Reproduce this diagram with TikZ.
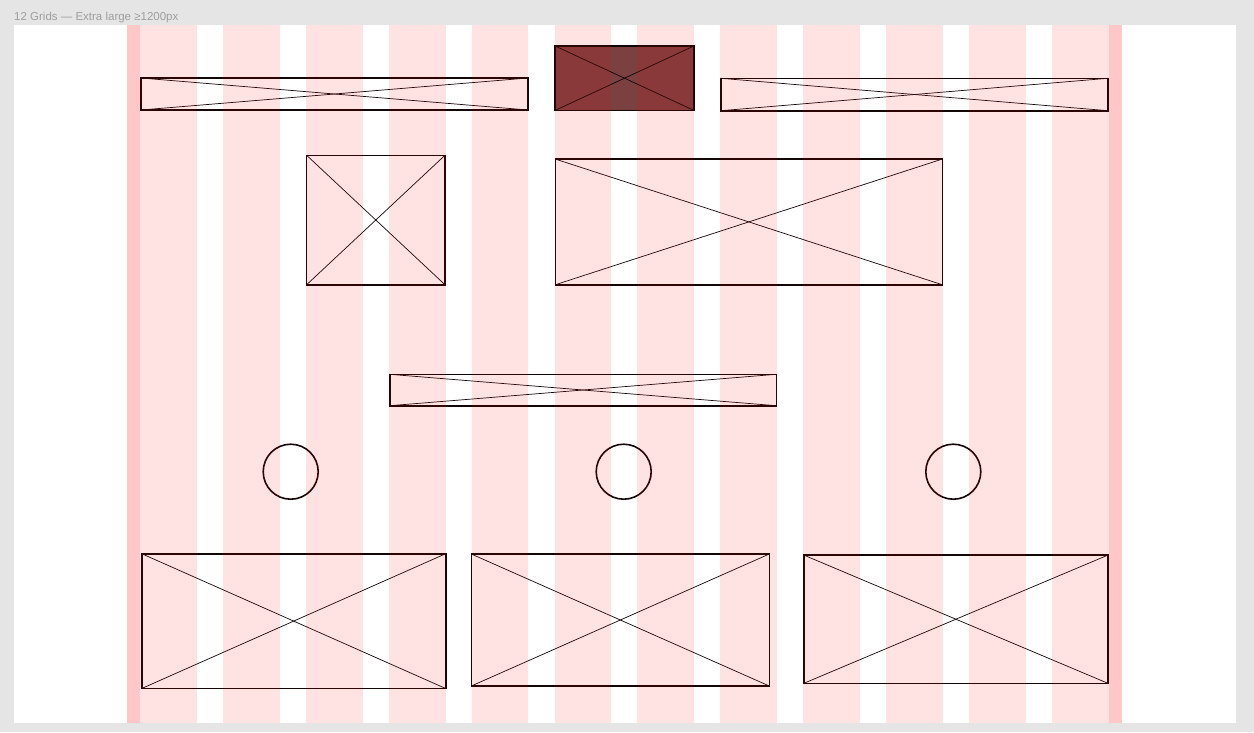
\documentclass[tikz,border=0pt]{standalone}
\usepackage{fontspec}
\setmainfont{Liberation Sans}
\usepackage{xcolor}
\definecolor{canvas-grey}{HTML}{E5E5E5}
\definecolor{label-grey}{HTML}{9E9E9E}
\definecolor{grid-red}{HTML}{FF0000}
\definecolor{wire-ink}{HTML}{120606}
\definecolor{hero-fill}{HTML}{7B4141}

\begin{document}
\begin{tikzpicture}[x=1pt, y=-1pt,
      every node/.style={font=\small},
      xbox/.style={draw=wire-ink, line width=1.6pt, inner sep=0pt, outer sep=0pt},
      cross/.style={wire-ink, line width=0.7pt},
      dot/.style={circle, draw=wire-ink, line width=1.6pt, minimum size=55pt, inner sep=0pt}]
    % page and frame
    \fill[canvas-grey] (0,0) rectangle (1254,732);
    \useasboundingbox (0,0) rectangle (1254,732);
    \fill[white] (14,25) rectangle (1235.5,722.5);
    \node[font=\fontsize{11.5}{13}\selectfont, text=label-grey, anchor=base west, inner sep=0pt] (title) at (14,20.5) {12 Grids — Extra large ≥1200px};
    % top row
    \node[xbox, minimum width=387pt, minimum height=32pt] (A) at (334.5,94) {};
    \node[xbox, fill=hero-fill, minimum width=139pt, minimum height=64.5pt] (B) at (624.5,78.2) {};
    \node[xbox, minimum width=387pt, minimum height=32.4pt] (C) at (914.5,94.5) {};
    % second row
    \node[xbox, minimum width=138.3pt, minimum height=129.4pt] (D) at (375.8,220) {};
    \node[xbox, minimum width=387pt, minimum height=125.7pt] (E) at (748.8,221.9) {};
    % banner
    \node[xbox, minimum width=386.6pt, minimum height=31.4pt] (F) at (583,390) {};
    % icons
    \node[dot] (c1) at (290.7,471.7) {};
    \node[dot] (c2) at (623.7,471.7) {};
    \node[dot] (c3) at (953.3,471.7) {};
    % cards
    \node[xbox, minimum width=304pt, minimum height=134.8pt] (G) at (293.7,621.1) {};
    \node[xbox, minimum width=298pt, minimum height=132pt] (H) at (620.3,620) {};
    \node[xbox, minimum width=304.3pt, minimum height=128.3pt] (I) at (955.9,619.2) {};
    \foreach \b in {A,B,C,D,E,F,G,H,I} {
      \draw[cross] (\b.north west) -- (\b.south east);
      \draw[cross] (\b.south west) -- (\b.north east);
    }
    % layout grid overlay
    \fill[grid-red, opacity=0.22] (127,25) rectangle (140,722.5);
    \fill[grid-red, opacity=0.22] (1109,25) rectangle (1122,722.5);
    \foreach \k in {0,...,11} {
      \fill[grid-red, opacity=0.11] (140+82.9*\k,25) rectangle (196.8+82.9*\k,722.5);
    }
  \end{tikzpicture}
\end{document}
